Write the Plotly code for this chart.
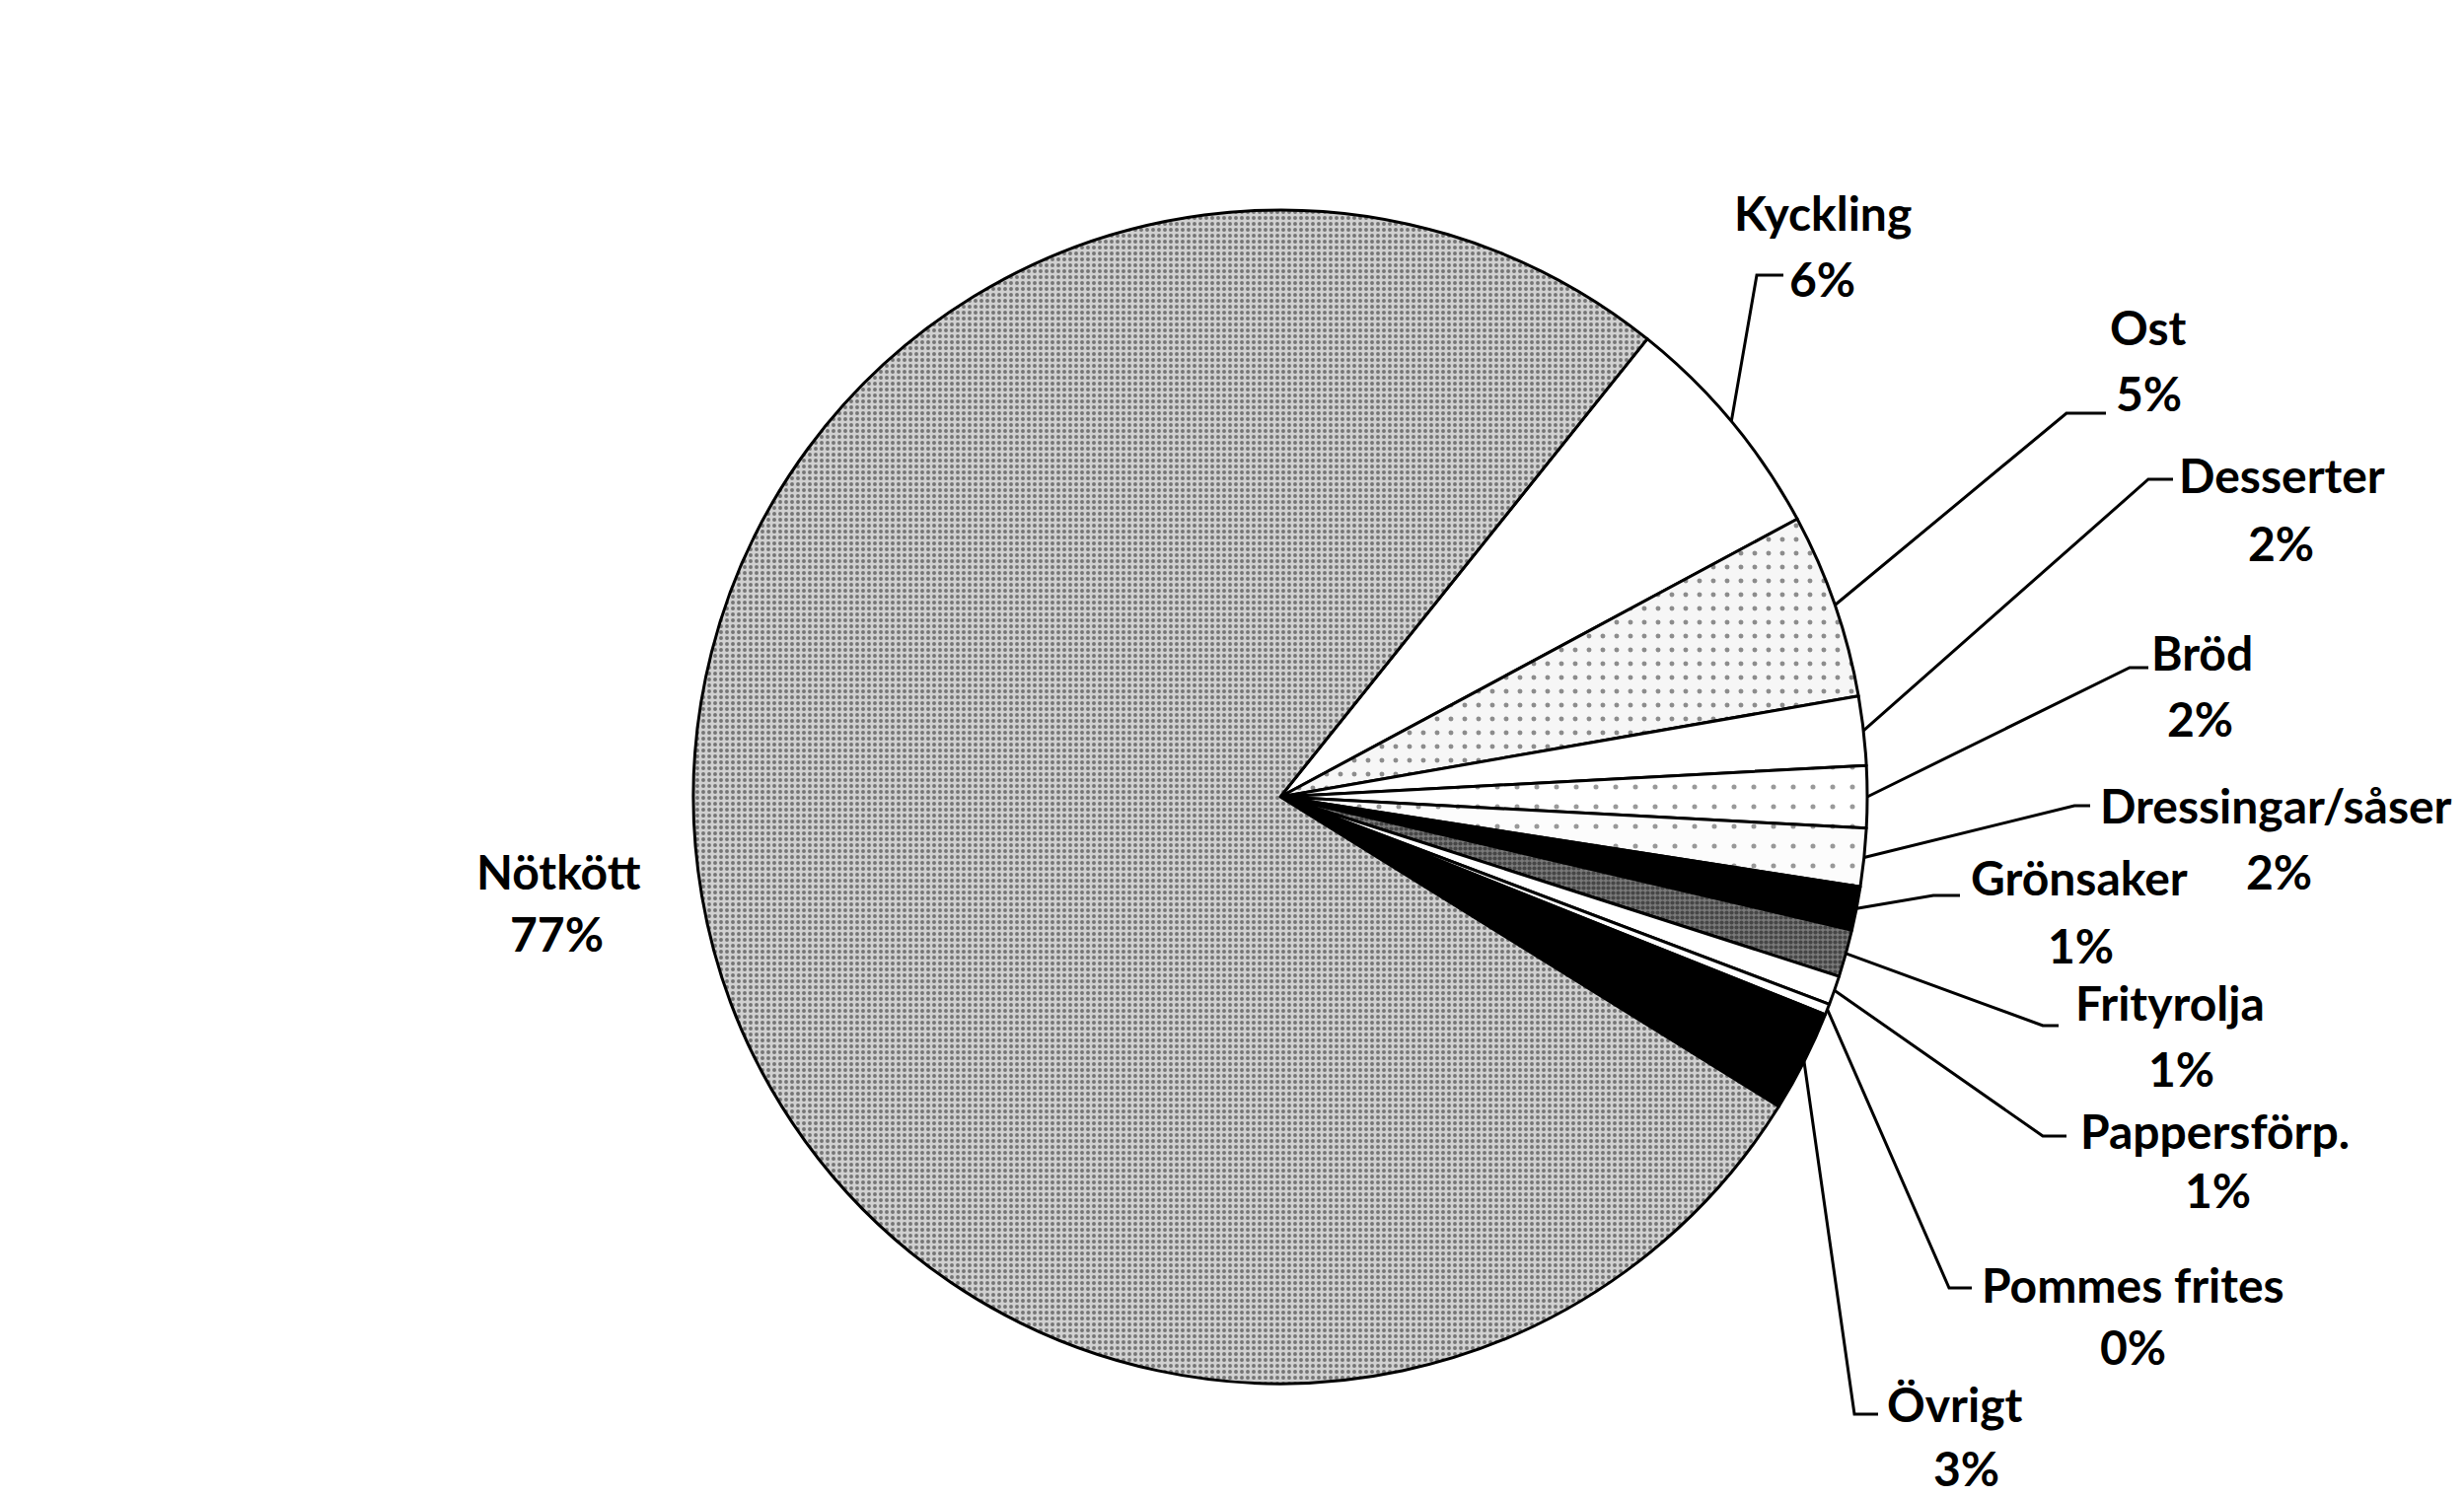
import math
import plotly.graph_objects as go

W, H = 2498, 1518

# ---- data -------------------------------------------------------------
categories = ["Kyckling", "Ost", "Desserter", "Bröd", "Dressingar/såser",
              "Grönsaker", "Frityrolja", "Pappersförp.", "Pommes frites",
              "Övrigt", "Nötkött"]
shares = [6.4, 5.1, 1.9, 1.7, 1.6, 1.2, 1.3, 0.8, 0.3, 2.8, 76.9]
pct_labels = [f"{round(v)}%" for v in shares]
start_angle = 38.7  # clockwise from 12 o'clock, where "Kyckling" begins

# ---- styles -----------------------------------------------------------
pattern_shape = ["", ".", "", ".", ".", "", ".", "", "", "", "."]
pattern_fg = ["#000", "#222", "#000", "#333", "#333", "#000", "#111",
              "#000", "#000", "#000", "#1a1a1a"]
pattern_size = [10, 14, 10, 20, 20, 10, 5, 10, 10, 10, 6]
pattern_solid = [0.2, 0.10, 0.2, 0.05, 0.05, 0.2, 0.55, 0.2, 0.2, 0.2, 0.34]
fill_colors = ["#ffffff", "#f6f6f6", "#ffffff", "#ffffff", "#fcfcfc",
               "#000000", "#7a7a7a", "#ffffff", "#ffffff", "#000000",
               "#d0d0d0"]

# pie placement (pixels)
cx, cy, R = 1290, 800, 595

# label placement (pixel positions of text centres), layout only
name_pos = [(1840, 207), (2170, 323), (2305, 473), (2224, 653), (2299, 808),
            (2100, 881), (2192, 1008), (2237, 1138), (2154, 1294),
            (1974, 1415), (558, 875)]
pct_pos = [(1839, 274), (2170, 390), (2304, 542), (2222, 720), (2302, 875),
           (2101, 950), (2203, 1075), (2240, 1198), (2154, 1357),
           (1985, 1480), (556, 938)]
elbow = [(1773, 271), (2087, 411), (2170, 478), (2151, 669), (2095, 809),
         (1952, 900), (2063, 1032), (2063, 1144), (1968, 1298),
         (1872, 1426), None]
elbow_end = [(1800, 271), (2127, 411), (2195, 478), (2170, 669), (2111, 809),
             (1979, 900), (2079, 1032), (2087, 1144), (1991, 1298),
             (1896, 1426), None]

FONT = dict(family="Lato, 'Open Sans', sans-serif", size=48, color="#000",
            weight="bold")

fig = go.Figure()

fig.add_trace(go.Pie(
    labels=categories,
    values=shares,
    sort=False,
    direction="clockwise",
    rotation=start_angle,
    textinfo="none",
    hoverinfo="label+percent",
    showlegend=False,
    marker=dict(
        colors=fill_colors,
        line=dict(color="#000", width=3),
        pattern=dict(shape=pattern_shape, fgcolor=pattern_fg,
                     size=pattern_size, solidity=pattern_solid,
                     fillmode="overlay"),
    ),
    domain=dict(x=[(cx - R) / W, (cx + R) / W],
                y=[1 - (cy + R) / H, 1 - (cy - R) / H]),
))

# leader lines computed from slice mid-angles
total = sum(shares)
lx, ly = [], []
cum = 0.0
for i, v in enumerate(shares):
    mid = math.radians(start_angle + (cum + v / 2) / total * 360)
    cum += v
    if elbow[i] is None:
        continue
    rx = cx + R * math.sin(mid)
    ry = cy - R * math.cos(mid)
    lx += [rx, elbow[i][0], elbow_end[i][0], None]
    ly += [ry, elbow[i][1], elbow_end[i][1], None]

fig.add_trace(go.Scatter(x=lx, y=ly, mode="lines",
                         line=dict(color="#000", width=3),
                         hoverinfo="skip", showlegend=False))

for i, name in enumerate(categories):
    fig.add_annotation(x=name_pos[i][0], y=name_pos[i][1], text=name,
                       xref="x", yref="y", showarrow=False,
                       xanchor="center", yanchor="middle", font=FONT)
    fig.add_annotation(x=pct_pos[i][0], y=pct_pos[i][1], text=pct_labels[i],
                       xref="x", yref="y", showarrow=False,
                       xanchor="center", yanchor="middle", font=FONT)

fig.update_layout(
    width=W, height=H,
    margin=dict(l=0, r=0, t=0, b=0),
    paper_bgcolor="white", plot_bgcolor="rgba(0,0,0,0)",
    xaxis=dict(range=[0, W], visible=False, fixedrange=True),
    yaxis=dict(range=[H, 0], visible=False, fixedrange=True),
)

fig.write_html("out.html")
